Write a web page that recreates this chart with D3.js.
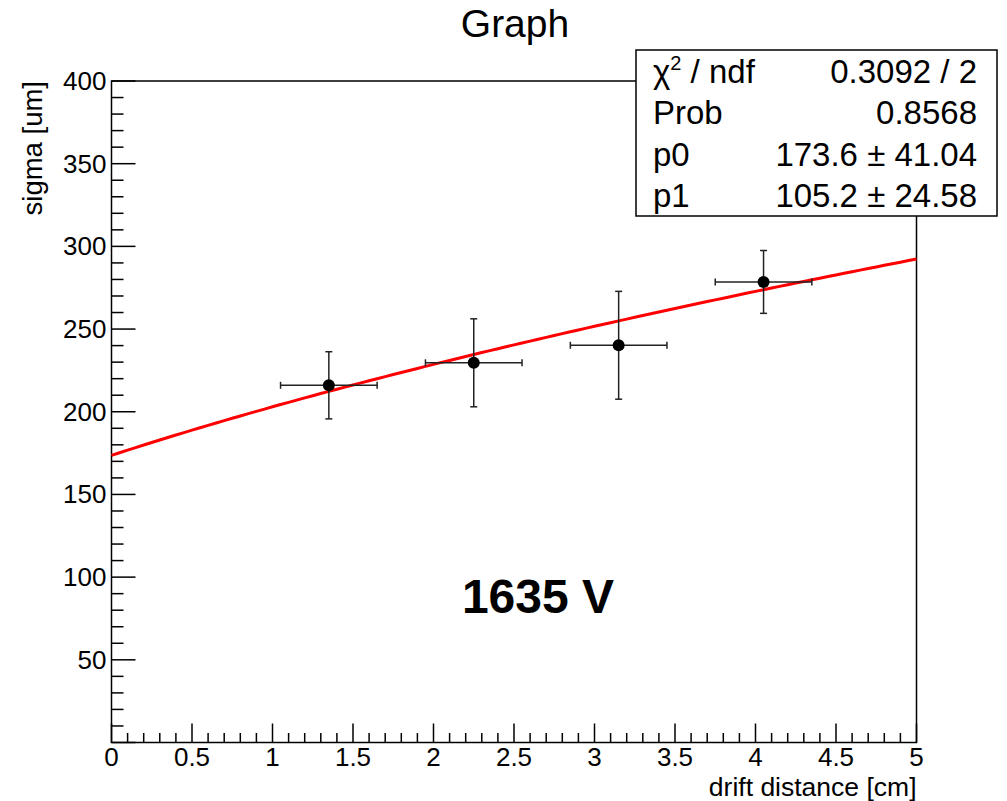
<!DOCTYPE html>
<html lang="en">
<head>
    <meta charset="UTF-8">
    <title>Graph</title>
    <script src="https://d3js.org/d3.v7.min.js"></script>
    <style>
        body { margin: 0; background: #fff; }
        svg { display: block; font-family: "Liberation Sans", Arial, Helvetica, sans-serif; }
    </style>
</head>
<body>
    <svg id="chart" width="1007" height="801"></svg>
    <script>
        // measured points (drift distance, sigma) with errors
        const distX = [1.35, 2.25, 3.15, 4.05];
        const distErr = [0.3, 0.3, 0.3, 0.3];
        const sigmaY = [216.0, 229.6, 240.2, 278.5];
        const sigmaErr = [20.3, 26.6, 32.6, 19.0];

        // fit result: sigma = sqrt(p0^2 + p1^2 * x)
        const p0 = 173.6, p1 = 105.2;
        const statKeys = ["χ² / ndf", "Prob", "p0", "p1"];
        const statVals = ["0.3092 / 2", "0.8568", "173.6 ± 41.04", "105.2 ± 24.58"];

        const xTicks = [0, 0.5, 1, 1.5, 2, 2.5, 3, 3.5, 4, 4.5, 5];
        const yTicks = [50, 100, 150, 200, 250, 300, 350, 400];

        const svg = d3.select("#chart");
        const fL = 111.5, fR = 916.5, fT = 81, fB = 742.5;

        const x = d3.scaleLinear().domain([0, 5]).range([fL, fR]);
        const y = d3.scaleLinear().domain([0, 400]).range([fB, fT]);

        // title
        svg.append("text")
            .attr("x", 515).attr("y", 37)
            .attr("text-anchor", "middle")
            .style("font-size", "39px")
            .text("Graph");

        // frame
        svg.append("rect")
            .attr("x", fL).attr("y", fT)
            .attr("width", fR - fL).attr("height", fB - fT)
            .attr("fill", "none").attr("stroke", "#000").attr("stroke-width", 1.5);

        // y axis ticks (inside the frame)
        const yMinor = d3.range(0, 401, 10);
        svg.append("g").selectAll("line").data(yMinor).join("line")
            .attr("x1", fL)
            .attr("x2", d => fL + (d % 50 === 0 ? 24 : 12))
            .attr("y1", d => y(d)).attr("y2", d => y(d))
            .attr("stroke", "#000").attr("stroke-width", 1.5);

        svg.append("g").selectAll("text").data(yTicks).join("text")
            .attr("x", fL - 5).attr("y", d => y(d) + 9)
            .attr("text-anchor", "end")
            .style("font-size", "26px")
            .text(d => d);

        // x axis ticks
        const xMinor = d3.range(0, 51).map(i => i / 10);
        svg.append("g").selectAll("line").data(xMinor).join("line")
            .attr("x1", d => x(d)).attr("x2", d => x(d))
            .attr("y1", fB)
            .attr("y2", (d, i) => fB - (i % 5 === 0 ? 19 : 9.5))
            .attr("stroke", "#000").attr("stroke-width", 1.5);

        svg.append("g").selectAll("text").data(xTicks).join("text")
            .attr("x", d => x(d)).attr("y", 766)
            .attr("text-anchor", "middle")
            .style("font-size", "26px")
            .text(d => d);

        // axis titles
        svg.append("text")
            .attr("x", fR).attr("y", 796)
            .attr("text-anchor", "end")
            .style("font-size", "26.5px")
            .text("drift distance [cm]");

        svg.append("text")
            .attr("transform", `translate(42, ${fT}) rotate(-90)`)
            .attr("text-anchor", "end")
            .style("font-size", "27.5px")
            .text("sigma [um]");

        // fit curve
        const curveX = d3.range(0, 101).map(i => i * 0.05);
        const line = d3.line()
            .x(d => x(d))
            .y(d => y(Math.sqrt(p0 * p0 + p1 * p1 * d)));
        svg.append("path")
            .datum(curveX)
            .attr("d", line)
            .attr("fill", "none").attr("stroke", "#ff0000").attr("stroke-width", 3);

        // error bars and markers
        const pts = distX.map((d, i) => ({ x: d, y: sigmaY[i], ex: distErr[i], ey: sigmaErr[i] }));
        const g = svg.append("g").attr("stroke", "#222").attr("stroke-width", 1.5);
        const cap = 3.5;
        pts.forEach(p => {
            g.append("line").attr("x1", x(p.x - p.ex)).attr("x2", x(p.x + p.ex))
                .attr("y1", y(p.y)).attr("y2", y(p.y));
            g.append("line").attr("x1", x(p.x)).attr("x2", x(p.x))
                .attr("y1", y(p.y - p.ey)).attr("y2", y(p.y + p.ey));
            g.append("line").attr("x1", x(p.x - p.ex)).attr("x2", x(p.x - p.ex))
                .attr("y1", y(p.y) - cap).attr("y2", y(p.y) + cap);
            g.append("line").attr("x1", x(p.x + p.ex)).attr("x2", x(p.x + p.ex))
                .attr("y1", y(p.y) - cap).attr("y2", y(p.y) + cap);
            g.append("line").attr("x1", x(p.x) - cap).attr("x2", x(p.x) + cap)
                .attr("y1", y(p.y + p.ey)).attr("y2", y(p.y + p.ey));
            g.append("line").attr("x1", x(p.x) - cap).attr("x2", x(p.x) + cap)
                .attr("y1", y(p.y - p.ey)).attr("y2", y(p.y - p.ey));
        });
        svg.append("g").selectAll("circle").data(pts).join("circle")
            .attr("cx", d => x(d.x)).attr("cy", d => y(d.y))
            .attr("r", 6).attr("fill", "#000");

        // voltage label
        svg.append("text")
            .attr("x", 538).attr("y", 613)
            .attr("text-anchor", "middle")
            .style("font-size", "48px").style("font-weight", "bold")
            .text("1635 V");

        // stats box
        const bx = 636, by = 50, bw = 361, bh = 166;
        svg.append("rect")
            .attr("x", bx).attr("y", by).attr("width", bw).attr("height", bh)
            .attr("fill", "#fff").attr("stroke", "#000").attr("stroke-width", 1.5);
        const rowH = bh / statKeys.length;
        statKeys.forEach((k, i) => {
            const ty = by + rowH * i + rowH / 2 + 12;
            const t = svg.append("text")
                .attr("x", bx + 17).attr("y", ty)
                .style("font-size", "33px");
            if (k.startsWith("χ")) {
                t.append("tspan").text("χ");
                t.append("tspan").attr("dy", -13).style("font-size", "20px").text("2");
                t.append("tspan").attr("dy", 13).text(" / ndf");
            } else {
                t.text(k);
            }
            svg.append("text")
                .attr("x", bx + bw - 20).attr("y", ty)
                .attr("text-anchor", "end")
                .style("font-size", "33px")
                .text(statVals[i]);
        });
    </script>
</body>
</html>
